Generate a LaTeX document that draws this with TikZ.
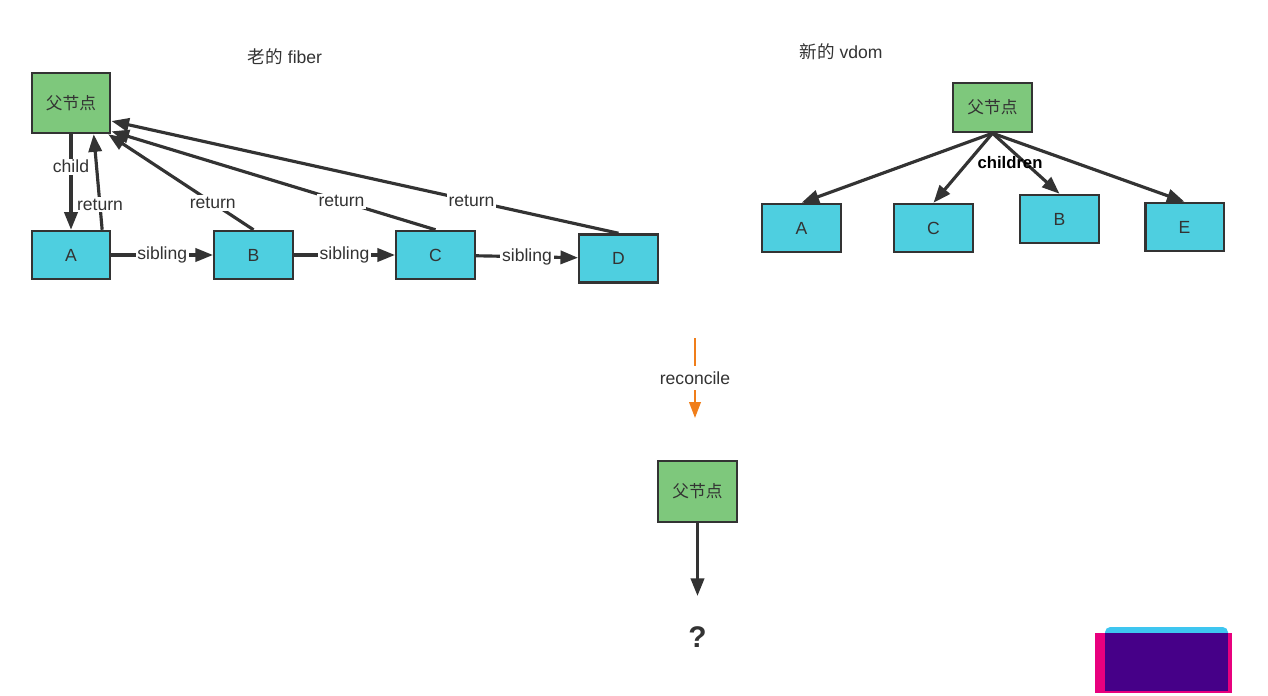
\documentclass[tikz,border=0pt]{standalone}
\usepackage{fontspec}
\setmainfont{Liberation Sans}
\newfontfamily\cjk{Noto Sans CJK SC}
\usepackage{tikz}
\usetikzlibrary{arrows.meta,positioning}
\definecolor{leafblue}{HTML}{4ECFE0}
\definecolor{rootgreen}{HTML}{7EC87C}
\definecolor{ink}{HTML}{333333}
\definecolor{orange2}{HTML}{F07E1A}
\definecolor{mark1}{HTML}{E8007E}
\definecolor{mark2}{HTML}{3EC6F0}
\definecolor{mark3}{HTML}{460088}

\begin{document}
\begin{tikzpicture}[x=0.02cm,y=-0.02cm,
          every node/.style={font=\fontsize{10}{12}\selectfont,text=ink},
          root/.style={draw=ink,line width=1.4pt,fill=rootgreen,
                       minimum width=1.57cm,minimum height=1.2cm,
                       font=\cjk\fontsize{9.5}{11}\selectfont},
          leaf/.style={draw=ink,line width=1.4pt,fill=leafblue,
                       minimum width=1.57cm,minimum height=0.96cm},
          arr/.style={-{Triangle[length=10pt,width=7.5pt]},line width=1.8pt,draw=ink},
          lbl/.style={fill=white,inner sep=1pt},
      ]
        \useasboundingbox (0,0) rectangle (1268,696);

        \node (oldtitle) at (285,57) {{\cjk 老的} fiber};
        \node[root] (fp) at (71,103) {父节点};
        \node[leaf] (fa) at (71,255) {A};
        \node[leaf] (fb) at (253.5,255) {B};
        \node[leaf] (fc) at (435.5,255) {C};
        \node[leaf] (fd) at (618.5,258.5) {D};

        \draw[arr] (fp.south) -- node[lbl,pos=0.34] {child} (fa.north);
        \draw[arr] (fa.39) -- node[lbl,pos=0.26] {return} (fp.-54);
        \draw[arr] (fb.north) -- node[lbl,pos=0.28] {return} (fp.-40);
        \draw[arr] (fc.north) -- node[lbl,pos=0.29] {return} (fp.-35);
        \draw[arr] (fd.north) -- node[lbl,pos=0.29] {return} (fp.-24);

        \draw[arr] (fa) -- node[lbl] {sibling} (fb);
        \draw[arr] (fb) -- node[lbl] {sibling} (fc);
        \draw[arr] (fc) -- node[lbl] {sibling} (fd);

        \node (newtitle) at (841,52) {{\cjk 新的} vdom};
        \node[root,minimum height=0.98cm] (np) at (992.5,107.5) {父节点};
        \node[leaf] (na) at (801.5,228) {A};
        \node[leaf] (nc) at (933.5,228) {C};
        \node[leaf] (nb) at (1059.5,219) {B};
        \node[leaf] (ne) at (1184.5,227) {E};

        \draw[arr] (np.south) -- (na.north);
        \draw[arr] (np.south) -- (nc.north);
        \draw[arr] (np.south) -- (nb.north);
        \draw[arr] (np.south) -- (ne.north);
        \node[font=\bfseries\fontsize{9.5}{11}\selectfont,text=black] (kids) at (1010,163) {children};

        \coordinate (rtop) at (695,338);
        \coordinate (rbot) at (695,418);
        \draw[-{Triangle[length=9pt,width=6.5pt]},line width=1.2pt,orange2]
          (rtop) -- node[lbl,inner sep=3pt] {reconcile} (rbot);

        \node[root,minimum height=1.22cm] (rp) at (697.5,491.5) {父节点};
        \coordinate (qtop) at (697.5,596);
        \draw[arr] (rp.south) -- (qtop);
        \node[font=\bfseries\fontsize{17}{20}\selectfont] (q) at (697.5,637) {?};

        \fill[mark1] (1095,633) rectangle (1232,693);
        \fill[mark2,rounded corners=3pt] (1105,627) rectangle (1228,638);
        \fill[mark3] (1105,633) rectangle (1228,691);
      \end{tikzpicture}
\end{document}
